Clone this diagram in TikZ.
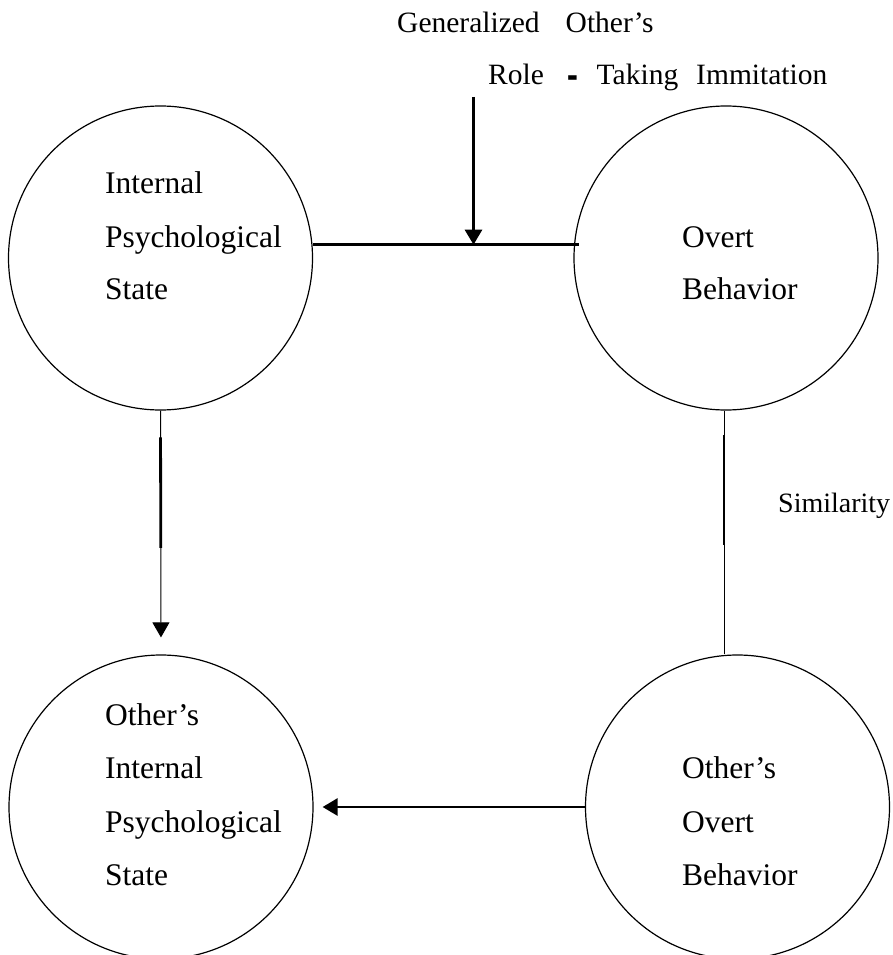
\documentclass[tikz,border=0pt]{standalone}
\usepackage{fontspec}
\setmainfont{Liberation Serif}
\usetikzlibrary{arrows.meta,calc}
\begin{document}
\begin{tikzpicture}[x=1pt,y=-1pt,
  circ/.style={circle,draw,line width=1.2pt,minimum size=304pt,inner sep=0pt},
  lbl/.style={anchor=base west,inner sep=0pt,font=\fontsize{31.5}{36}\selectfont},
  toplbl/.style={anchor=base west,inner sep=0pt,font=\fontsize{29.5}{35}\selectfont},
  simlbl/.style={anchor=base west,inner sep=0pt,font=\fontsize{28}{34}\selectfont},
  boldline/.style={line width=2.8pt},
  thinline/.style={line width=1pt},
  tip/.style={-{Triangle[length=15pt,width=17pt]}}
]
\useasboundingbox (0,0) rectangle (893,955);

% circles
\node[circ] (ips) at (160.5,258) {};
\node[circ] (ob) at (726,258) {};
\node[circ] (oips) at (161,807) {};
\node[circ] (oob) at (737.5,807) {};

% texts in circles
\node[lbl] (ipsA) at (105,193) {Internal};
\node[lbl] (ipsB) at (105,247) {Psychological};
\node[lbl] (ipsC) at (105,299) {State};

\node[lbl] (obA) at (682,247) {Overt};
\node[lbl] (obB) at (682,299) {Behavior};

\node[lbl] (oipsA) at (105,725) {Other’s};
\node[lbl] (oipsB) at (105,778) {Internal};
\node[lbl] (oipsC) at (105,832) {Psychological};
\node[lbl] (oipsD) at (105,885) {State};

\node[lbl] (oobA) at (682,778) {Other’s};
\node[lbl] (oobB) at (682,832) {Overt};
\node[lbl] (oobC) at (682,885) {Behavior};

% top labels
\node[toplbl] (gen) at (397,33) {Generalized\hspace{26pt}Other’s};
\node[toplbl] (role) at (488,85) {Role\hspace{24pt}\raisebox{-5.5pt}{\scalebox{1.1}[1.8]{\textbf{-}}}\hspace{18pt}Taking\hspace{18pt}Immitation};

% similarity label
\node[simlbl] (sim) at (778,512) {Similarity};

% top horizontal connector
\coordinate (hr) at ($(ips.5 -| ob.west)+(6,0)$);
\draw[boldline] (ips.5) -- (hr);

% top downward arrow
\coordinate (ga) at (473.5,97);
\draw[boldline,tip] (ga) -- (ga |- ips.5);

% left vertical arrow
\draw[thinline,tip,shorten >=17pt] (ips.south) -- (oips.north);
\draw[boldline] ($(ips.south)!0.11!(oips.north)$) -- ($(ips.south)!0.563!(oips.north)$);

% right vertical connector
\coordinate (rt) at ($(ob.south)+(-2,0)$);
\coordinate (rb) at (rt |- oob.north);
\draw[thinline] (rt) -- (rb);
\draw[boldline] ($(rt)!0.10!(rb)$) -- ($(rt)!0.55!(rb)$);

% bottom horizontal arrow
\draw[boldline,tip,shorten >=9pt] (oob.west) -- (oips.east);
\end{tikzpicture}
\end{document}
